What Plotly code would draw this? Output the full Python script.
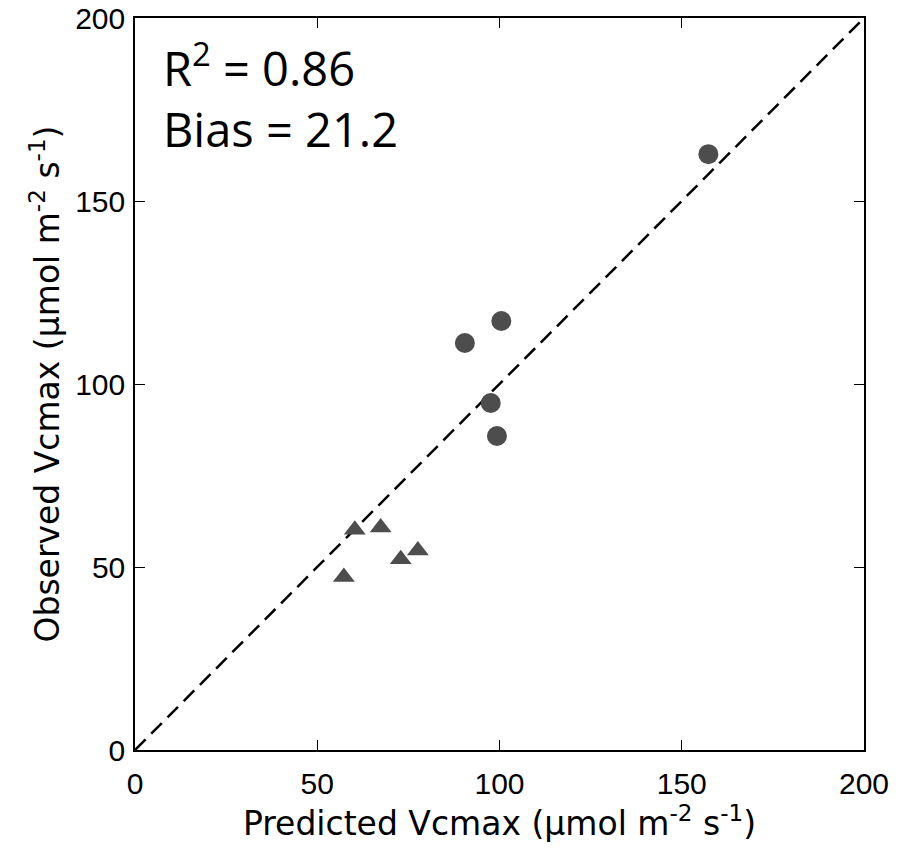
import plotly.graph_objects as go

circle_x = [157.3, 90.5, 100.5, 97.6, 99.3]
circle_y = [162.8, 111.2, 117.2, 94.8, 85.8]
tri_x = [60.3, 67.4, 72.9, 77.6, 57.3]
tri_y = [60.2, 60.8, 52.1, 54.5, 47.3]
line_x = [0, 200]
line_y = [0, 200]
ticks = [0, 50, 100, 150, 200]

fig = go.Figure()
fig.add_trace(go.Scatter(x=line_x, y=line_y, mode="lines",
                         line=dict(color="black", width=2.5, dash="15px,8px"),
                         showlegend=False, hoverinfo="skip"))
fig.add_trace(go.Scatter(x=circle_x, y=circle_y, mode="markers",
                         marker=dict(symbol="circle", size=20, color="#4d4d4d"),
                         showlegend=False))
fig.add_trace(go.Scatter(x=tri_x, y=tri_y, mode="markers",
                         marker=dict(symbol="triangle-up", size=19, color="#4d4d4d"),
                         showlegend=False))

tickfont = dict(family="Liberation Sans, Arial", size=30, color="black")
titlefont = dict(family="DejaVu Sans", size=33, color="black")
axis_common = dict(range=[0, 200], tickvals=ticks, ticks="inside", ticklen=10,
                   tickwidth=1.2, tickcolor="black", showline=True, linecolor="black",
                   linewidth=1.5, mirror="ticks", showgrid=False, zeroline=False,
                   tickfont=tickfont, automargin=False)

fig.update_layout(
    width=907, height=853,
    margin=dict(l=135, r=43, t=18, b=103),
    plot_bgcolor="white", paper_bgcolor="white",
    xaxis=dict(**axis_common, ticklabelstandoff=6,
               title=dict(text="Predicted Vcmax (µmol m<sup>-2</sup> s<sup>-1</sup>)",
                          font=titlefont, standoff=8)),
    yaxis=dict(**axis_common, ticklabelstandoff=2,
               title=dict(text="Observed Vcmax (µmol m<sup>-2</sup> s<sup>-1</sup>)",
                          font=titlefont, standoff=6)),
)

fig.add_annotation(x=0.036, y=0.985, xref="paper", yref="paper", xanchor="left", yanchor="top",
                   align="left", showarrow=False,
                   text="R<sup>2</sup> = 0.86<br>Bias = 21.2",
                   font=dict(family="Open Sans, Noto Sans", size=47, color="black"))

fig.write_html("out.html")
